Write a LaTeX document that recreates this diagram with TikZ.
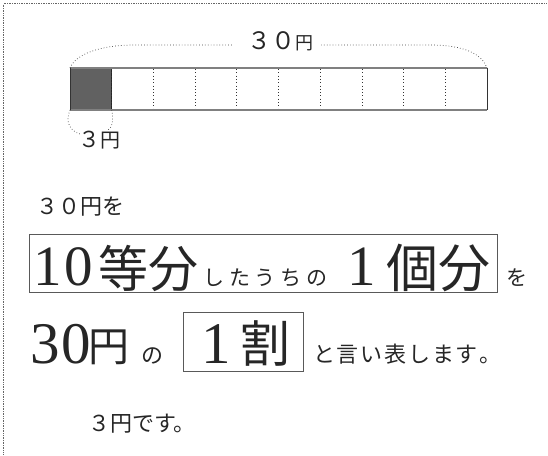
\documentclass[tikz,border=0pt]{standalone}
\usepackage{fontspec}
\newfontfamily\jp{Noto Sans CJK JP}
\newfontfamily\dg{Liberation Serif}
\newcommand{\jsz}[1]{\jp\fontsize{#1}{#1}\selectfont}
\newcommand{\rsz}[1]{\dg\fontsize{#1}{#1}\selectfont}
\begin{document}
\begin{tikzpicture}[x=1pt,y=-1pt,
  txt/.style={inner sep=0pt, outer sep=0pt, anchor=base west, text=black!85},
  frame/.style={draw=black!65, line width=0.9pt, inner sep=0pt, outer sep=0pt, anchor=north west},
  dotline/.style={line width=0.7pt, dash pattern=on 0.7pt off 2.2pt, black!75},
  border/.style={line width=0.5pt, dash pattern=on 0.5pt off 1.2pt, black!60}]
\useasboundingbox (0,0) rectangle (548,455);
% page border
\coordinate (ptr) at (548,3.5);
\coordinate (ptl) at (3.5,3.5);
\coordinate (pbl) at (3.5,455);
\draw[border] (ptr) -- (ptl) -- (pbl);

% bar
\node[minimum width=417pt, minimum height=42pt, inner sep=0pt, outer sep=0pt, anchor=north west] (bar) at (70,68) {};
\node[fill=black!62, draw=black!85, line width=0.6pt, minimum width=41.7pt, minimum height=42pt, inner sep=0pt, outer sep=0pt, anchor=north west] (cell) at (bar.north west) {};
\foreach \i in {1,...,9}
  \draw[line width=0.7pt, dash pattern=on 0.7pt off 2.6pt, black!80] (70+41.7*\i,69) -- (70+41.7*\i,109);
\draw[black!50, line width=1.6pt] (bar.north west) -- (bar.north east);
\draw[black!50, line width=1.6pt] (bar.south west) -- (bar.south east);
\draw[black!80, line width=0.8pt] (bar.north west) -- (bar.south west);
\draw[black!80, line width=0.8pt] (bar.north east) -- (bar.south east);

% top label and brace
\node[txt, anchor=base] (lbl30) at (280,49) {\jsz{24}３０\jsz{18}円};
\coordinate (tl) at (233,45);
\coordinate (tr) at (321,45);
\draw[dotline] (bar.north west) .. controls (76,54) and (100,45) .. (135,45) -- (tl);
\draw[dotline] (tr) -- (430,45) .. controls (464,45) and (482,54) .. (bar.north east);

% bottom label and brace
\node[txt] (lbl3) at (78,147) {\jsz{22}３\jsz{20}円};
\coordinate (bl) at (80,134);
\coordinate (br) at (107,131);
\draw[dotline] (cell.south west) .. controls (65,122) and (70,131) .. (bl);
\draw[dotline] (cell.south east) .. controls (114,121) and (112,128) .. (br);

% row 0
\node[txt] (r0) at (36,214) {\jsz{22}３０円を};

% row 1
\node[frame, minimum width=468pt, minimum height=58pt] (box1) at (29,234) {};
\node[txt] (t10) at (33,285) {\rsz{57}1\kern3pt0};
\node[txt] (tto) at (98,287) {\jsz{50}等分};
\node[txt] (tsh) at (203,285) {\jsz{21}し\kern5ptた\kern5ptう\kern5ptち\kern5ptの};
\node[txt] (t1a) at (347,285) {\rsz{57}1};
\node[txt] (tko) at (386,287) {\jsz{52}個分};
\node[txt] (two) at (506,285) {\jsz{21}を};

% row 2
\node[txt] (t30) at (30,363) {\rsz{59}3\kern2pt0};
\node[txt] (ten) at (88,361) {\jsz{41}円};
\node[txt] (tno) at (141,363) {\jsz{22}の};
\node[frame, minimum width=120pt, minimum height=59pt] (box2) at (183,312) {};
\node[txt] (t1b) at (201,363) {\rsz{59}1};
\node[txt] (twa) at (240,362) {\jsz{50}割};
\node[txt] (tii) at (313,362) {\jsz{22}と\kern1.8pt言\kern1.8ptい\kern1.8pt表\kern1.8ptし\kern1.8ptま\kern1.8ptす\kern1.8pt。};

% row 3
\node[txt] (r3) at (88,431) {\jsz{22}３円です。};
\end{tikzpicture}
\end{document}
